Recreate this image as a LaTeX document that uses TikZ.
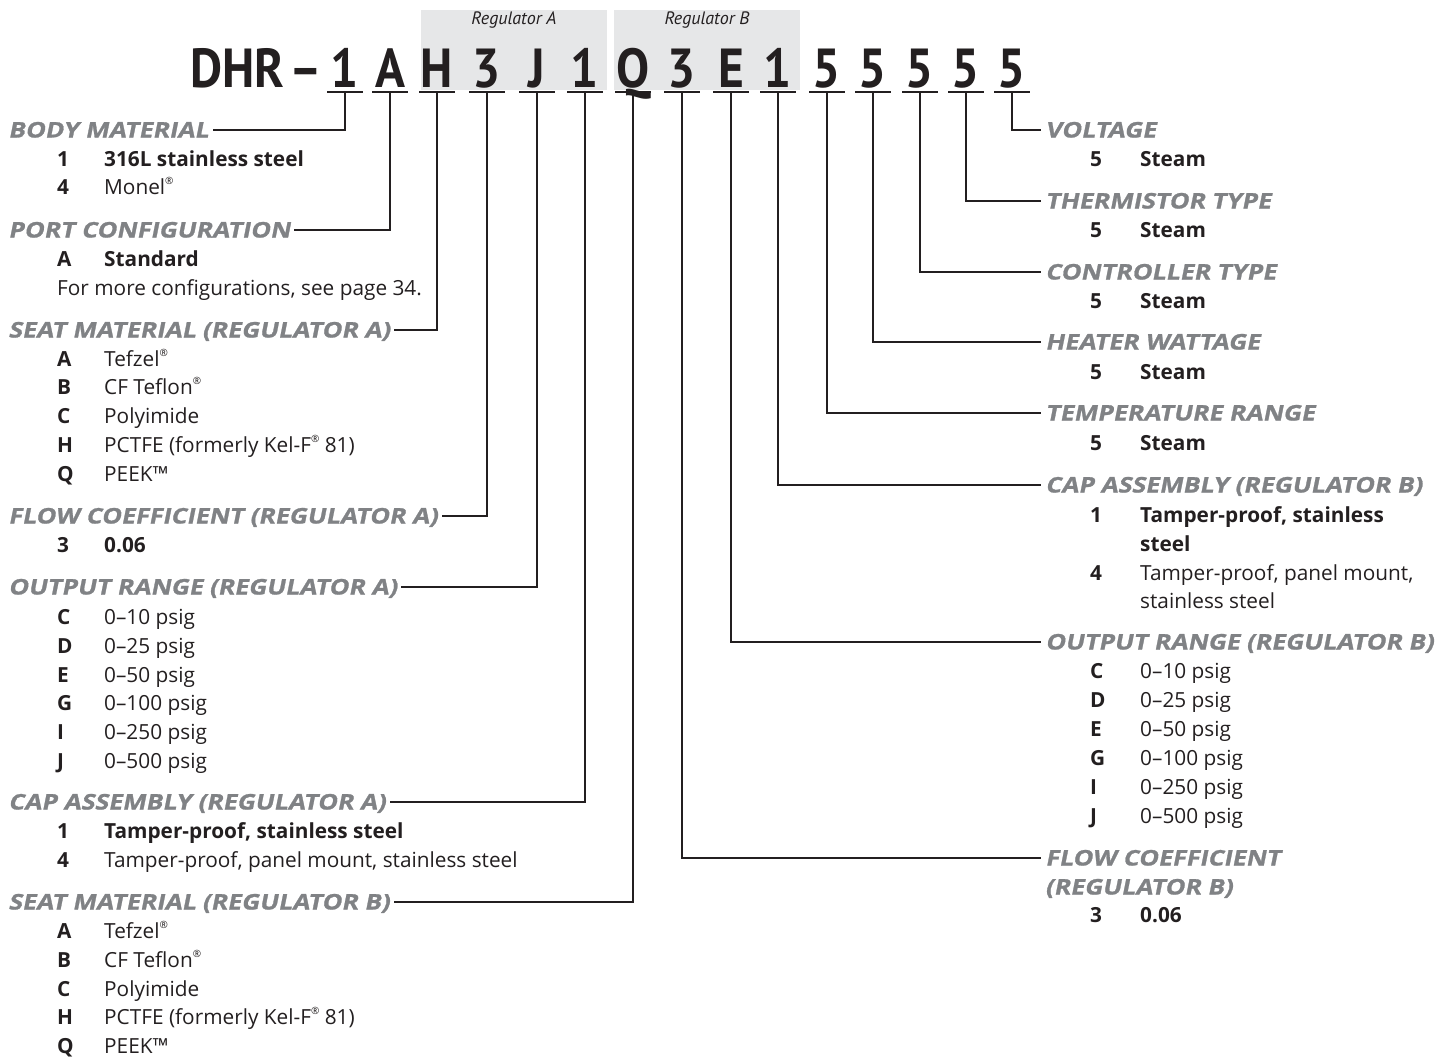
\documentclass[tikz,border=0pt]{standalone}
\usepackage{fontspec}
\setmainfont{Open Sans}
\newfontfamily\ttlfont{PT Sans}
\newfontfamily\hdfont{Open Sans}[FakeSlant=0.2, FakeStretch=1.16, FakeBold=1.2]
\definecolor{hdgray}{RGB}{128,130,133}
\definecolor{boxgray}{RGB}{230,231,232}
\definecolor{ink}{RGB}{35,31,32}
\newcommand\regd{\raisebox{0.5em}{\fontsize{10}{10}\selectfont ®}}
\tikzset{
 hd/.style={font=\fontsize{21.5}{26}\selectfont\hdfont\bfseries, text=hdgray, inner xsep=4pt, inner ysep=0pt, text height=15pt, text depth=0pt},
 cd/.style={font=\fontsize{20.8}{26}\selectfont\bfseries, text=ink, inner sep=0pt, text height=15pt, text depth=0pt, anchor=west},
 vl/.style={font=\fontsize{20.8}{26}\selectfont, text=ink, inner sep=0pt, text height=15pt, text depth=0pt, anchor=west},
 vb/.style={vl, font=\fontsize{20.8}{26}\selectfont\bfseries},
 conn/.style={line width=1.6pt, draw=ink},
 ulin/.style={line width=2pt, draw=ink},
 ttl/.style={font=\fontsize{55}{60}\selectfont\ttlfont\bfseries, text=ink, inner sep=0pt, anchor=base, xscale=0.9, transform shape},
 reglab/.style={font=\fontsize{18}{20}\selectfont\ttlfont\itshape, text=ink, inner sep=0pt},
}
\newcommand\rowL[4]{\node[cd] (#1c) at (57,#2) {#3};\node[vl] (#1v) at (104,#2) {#4};}
\newcommand\rowLb[4]{\node[cd] (#1c) at (57,#2) {#3};\node[vb] (#1v) at (104,#2) {#4};}
\newcommand\rowR[4]{\node[cd] (#1c) at (1090,#2) {#3};\node[vl] (#1v) at (1140,#2) {#4};}
\newcommand\rowRb[4]{\node[cd] (#1c) at (1090,#2) {#3};\node[vb] (#1v) at (1140,#2) {#4};}
\begin{document}
\begin{tikzpicture}[x=1pt,y=-1pt]
\useasboundingbox (0,0) rectangle (1444,1057);
% gray boxes
\fill[boxgray] (421,10) rectangle (607,90);
\fill[boxgray] (614,10) rectangle (800,90);
\node[reglab] (rA) at (514,20) {Regulator A};
\node[reglab] (rB) at (707,20) {Regulator B};
% title
\node[ttl, anchor=base west] (tDHR) at (190,88) {DHR};
\node[ttl] (tdash) at (306,88) {–};
\foreach \n/\x/\c in {1/345/1,2/390/A,3/437/H,4/487/3,5/537/J,6/585/1,7/633/Q,8/682/3,9/731/E,10/778/1,11/827/5,12/873/5,13/920/5,14/966/5,15/1012/5}{
  \node[ttl] (t\n) at (\x,88) {\c};
  \coordinate (u\n) at (\x,92);
  \draw[ulin] ([xshift=-18pt]u\n) -- ([xshift=18pt]u\n);
}
% left headings
\node[hd, anchor=west] (hBody) at (4,130) {BODY MATERIAL};
\rowLb{bm1}{159}{1}{316L stainless steel}
\rowL{bm4}{187}{4}{Monel\regd}
\node[hd, anchor=west] (hPort) at (4,230) {PORT CONFIGURATION};
\rowLb{pcA}{259}{A}{Standard}
\node[vl] (pcMore) at (57,288) {For more configurations, see page 34.};
\node[hd, anchor=west] (hSeatA) at (4,330) {SEAT MATERIAL (REGULATOR A)};
\rowL{saA}{359}{A}{Tefzel\regd}
\rowL{saB}{387}{B}{CF Teflon\regd}
\rowL{saC}{416}{C}{Polyimide}
\rowL{saH}{445}{H}{PCTFE (formerly Kel-F\regd{} 81)}
\rowL{saQ}{474}{Q}{PEEK™}
\node[hd, anchor=west] (hFlowA) at (4,516) {FLOW COEFFICIENT (REGULATOR A)};
\rowLb{fa3}{545}{3}{0.06}
\node[hd, anchor=west] (hOutA) at (4,587) {OUTPUT RANGE (REGULATOR A)};
\rowL{oaC}{617}{C}{0–10 psig}
\rowL{oaD}{646}{D}{0–25 psig}
\rowL{oaE}{675}{E}{0–50 psig}
\rowL{oaG}{703}{G}{0–100 psig}
\rowL{oaI}{732}{I}{0–250 psig}
\rowL{oaJ}{761}{J}{0–500 psig}
\node[hd, anchor=west] (hCapA) at (4,802) {CAP ASSEMBLY (REGULATOR A)};
\rowLb{ca1}{831}{1}{Tamper-proof, stainless steel}
\rowL{ca4}{860}{4}{Tamper-proof, panel mount, stainless steel}
\node[hd, anchor=west] (hSeatB) at (4,902) {SEAT MATERIAL (REGULATOR B)};
\rowL{sbA}{931}{A}{Tefzel\regd}
\rowL{sbB}{960}{B}{CF Teflon\regd}
\rowL{sbC}{989}{C}{Polyimide}
\rowL{sbH}{1017}{H}{PCTFE (formerly Kel-F\regd{} 81)}
\rowL{sbQ}{1046}{Q}{PEEK™}
% right headings
\node[hd, anchor=west] (hVolt) at (1041,130) {VOLTAGE};
\rowRb{vo5}{159}{5}{Steam}
\node[hd, anchor=west] (hTherm) at (1041,201) {THERMISTOR TYPE};
\rowRb{th5}{230}{5}{Steam}
\node[hd, anchor=west] (hCtrl) at (1041,272) {CONTROLLER TYPE};
\rowRb{ct5}{301}{5}{Steam}
\node[hd, anchor=west] (hHeat) at (1041,342) {HEATER WATTAGE};
\rowRb{hw5}{372}{5}{Steam}
\node[hd, anchor=west] (hTemp) at (1041,413) {TEMPERATURE RANGE};
\rowRb{tr5}{443}{5}{Steam}
\node[hd, anchor=west] (hCapB) at (1041,485) {CAP ASSEMBLY (REGULATOR B)};
\rowRb{cb1}{515}{1}{Tamper-proof, stainless}
\node[vb] (cb1b) at (1140,544) {steel};
\rowR{cb4}{573}{4}{Tamper-proof, panel mount,}
\node[vl] (cb4b) at (1140,601) {stainless steel};
\node[hd, anchor=west] (hOutB) at (1041,642) {OUTPUT RANGE (REGULATOR B)};
\rowR{obC}{671}{C}{0–10 psig}
\rowR{obD}{700}{D}{0–25 psig}
\rowR{obE}{729}{E}{0–50 psig}
\rowR{obG}{758}{G}{0–100 psig}
\rowR{obI}{787}{I}{0–250 psig}
\rowR{obJ}{816}{J}{0–500 psig}
\node[hd, anchor=west] (hFlowB) at (1041,858) {FLOW COEFFICIENT};
\node[hd, anchor=west] (hFlowB2) at (1041,887) {(REGULATOR B)};
\rowRb{fb3}{915}{3}{0.06}
% connectors
\draw[conn] (u1) |- (hBody.east);
\draw[conn] (u2) |- (hPort.east);
\draw[conn] (u3) |- (hSeatA.east);
\draw[conn] (u4) |- (hFlowA.east);
\draw[conn] (u5) |- (hOutA.east);
\draw[conn] (u6) |- (hCapA.east);
\draw[conn] (u7) |- (hSeatB.east);
\draw[conn] (u8) |- (hFlowB.west);
\draw[conn] (u9) |- (hOutB.west);
\draw[conn] (u10) |- (hCapB.west);
\draw[conn] (u11) |- (hTemp.west);
\draw[conn] (u12) |- (hHeat.west);
\draw[conn] (u13) |- (hCtrl.west);
\draw[conn] (u14) |- (hTherm.west);
\draw[conn] (u15) |- (hVolt.west);
\end{tikzpicture}
\end{document}
